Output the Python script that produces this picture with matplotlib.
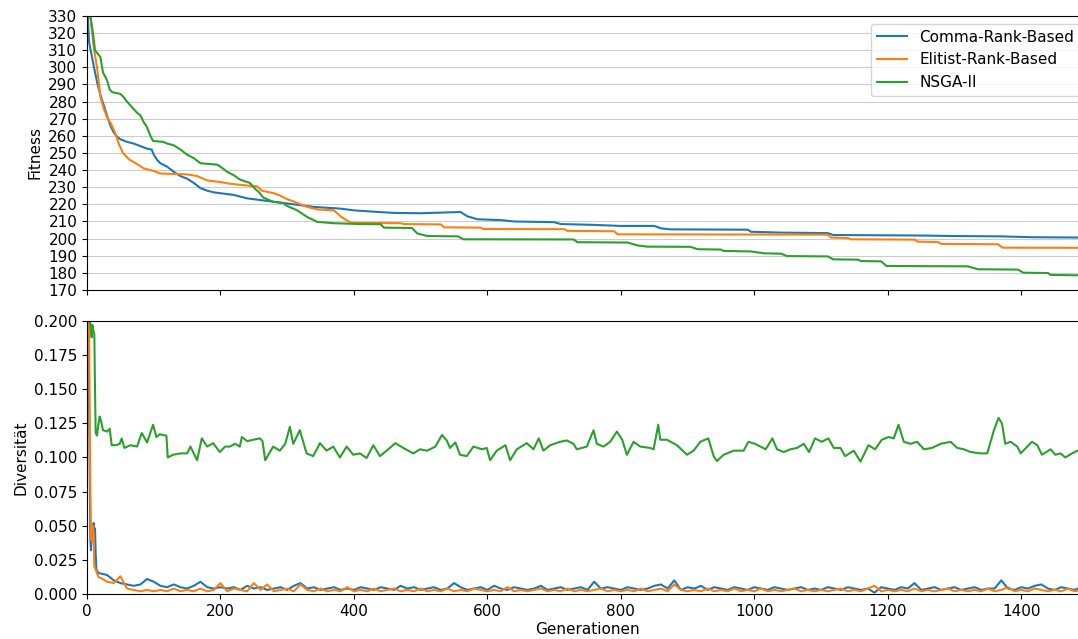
import numpy as np
import matplotlib
matplotlib.use('Agg')
import matplotlib.pyplot as plt

plt.rcParams['font.size'] = 11

labels = ['Comma-Rank-Based', 'Elitist-Rank-Based', 'NSGA-II']

# Fitness (best so far) - breakpoints
comma_fit_gen = [0, 3, 8, 12, 16, 20, 25, 30, 35, 40, 45, 50, 60, 70, 80, 90, 97, 100, 105, 110, 120, 130,
                 140, 150, 160, 170, 180, 190, 200, 210, 220, 240, 260, 280, 300, 320, 340, 360, 380, 400,
                 430, 460, 500, 540, 560, 570, 585, 620, 640, 700, 710, 760, 800, 850, 860, 874, 990, 995,
                 1040, 1110, 1118, 1250, 1300, 1370, 1418, 1499]
comma_fit = [340, 315, 305, 297, 290, 284, 278, 272, 266, 262, 259.5, 258, 256.5, 255.5, 254, 252.5, 252,
             249, 246, 244, 242, 239, 236.5, 235, 232.5, 229.5, 228, 227, 226.5, 226, 225.5, 223.5, 222.5,
             221.5, 220.5, 219.5, 218.5, 218, 217.5, 216.5, 215.7, 215, 214.8, 215.3, 215.5, 213, 211.3,
             210.8, 210, 209.6, 208.5, 208, 207.4, 207.4, 206, 205.4, 205.2, 204, 203.5, 203.2, 202.1,
             201.8, 201.5, 201.3, 200.8, 200.6]

elitist_fit_gen = [0, 5, 10, 15, 20, 25, 30, 36, 42, 48, 54, 60, 64, 75, 85, 100, 110, 150, 165, 180, 200,
                   215, 240, 255, 262, 280, 290, 300, 310, 330, 345, 370, 380, 390, 396, 470, 475, 530, 535,
                   590, 594, 715, 720, 790, 795, 1110, 1115, 1140, 1145, 1240, 1245, 1275, 1280, 1365, 1372,
                   1499]
elitist_fit = [340, 330, 312, 300, 283, 276, 271, 267, 262, 255, 250, 247.5, 246, 243.5, 241, 239.5, 238,
               237.5, 236.5, 234, 233, 232, 231, 230.5, 228, 226.5, 225, 223, 221.6, 218.5, 217, 216.5, 213,
               210.5, 209.2, 209, 208.5, 208.3, 206.6, 206.4, 205.6, 205.5, 204.5, 204.3, 202.5, 202.3, 200.6,
               200.3, 199.6, 199.4, 198.2, 198, 196.9, 196.7, 194.7, 194.6]

nsga_fit_gen = [0, 5, 9, 12, 16, 20, 24, 30, 34, 38, 50, 54, 60, 69, 75, 80, 85, 90, 95, 99, 114, 120, 130,
                140, 150, 160, 170, 195, 200, 210, 220, 229, 244, 252, 258, 264, 279, 294, 300, 315, 330, 345,
                369, 409, 440, 445, 487, 495, 510, 556, 564, 729, 735, 810, 825, 840, 904, 915, 950, 954, 995,
                1015, 1040, 1049, 1110, 1118, 1155, 1160, 1190, 1198, 1320, 1335, 1395, 1403, 1440, 1444, 1499]
nsga_fit = [345, 330, 320, 310, 308, 306, 297, 292.5, 287, 285.5, 284.5, 283, 280, 276, 273.5, 272, 268, 265,
            260, 257, 256.5, 255.5, 254.5, 252, 249, 247, 244, 243.2, 242, 239, 237, 234.5, 232.5, 229, 227,
            224, 221.5, 220.8, 219, 216.5, 212.6, 209.8, 209, 208.5, 208.4, 206.4, 206.2, 203, 201.5, 201.3,
            199.6, 199.5, 197.9, 197.7, 196, 195.3, 195.2, 193.8, 193.6, 192.8, 192.5, 191.4, 191.2, 189.8,
            189.6, 187.9, 187.7, 186.9, 186.7, 184.0, 183.8, 182.1, 181.9, 180.1, 179.9, 178.8, 178.5]

# Diversitaet
comma_div_head_gen = [0, 2, 4, 5, 6, 7, 8, 10, 11, 12, 13, 14, 16]
comma_div_head = [0.21, 0.2, 0.09, 0.04, 0.032, 0.045, 0.048, 0.052, 0.045, 0.048, 0.03, 0.018, 0.016]
comma_div_tail = [0.015, 0.014, 0.010, 0.008, 0.007, 0.006, 0.007, 0.011, 0.009,
                  0.006, 0.005, 0.007, 0.005, 0.004, 0.006, 0.009, 0.005, 0.004, 0.005,
                  0.004, 0.005, 0.003, 0.006, 0.004, 0.005, 0.003, 0.004, 0.005, 0.003,
                  0.006, 0.008, 0.004, 0.005, 0.003, 0.004, 0.005, 0.003, 0.004, 0.003,
                  0.005, 0.004, 0.003, 0.005, 0.004, 0.003, 0.006, 0.004, 0.005, 0.003,
                  0.004, 0.005, 0.003, 0.004, 0.008, 0.005, 0.003, 0.004, 0.005, 0.003,
                  0.006, 0.004, 0.003, 0.005, 0.004, 0.003, 0.004, 0.006, 0.003, 0.004,
                  0.005, 0.003, 0.004, 0.005, 0.003, 0.009, 0.004, 0.005, 0.004, 0.003,
                  0.005, 0.004, 0.003, 0.004, 0.006, 0.007, 0.004, 0.010, 0.003, 0.005,
                  0.004, 0.006, 0.003, 0.005, 0.004, 0.003, 0.005, 0.004, 0.003, 0.005,
                  0.004, 0.003, 0.005, 0.004, 0.003, 0.004, 0.005, 0.003, 0.004, 0.003,
                  0.005, 0.004, 0.003, 0.005, 0.004, 0.003, 0.004, 0.001, 0.005, 0.004,
                  0.003, 0.005, 0.004, 0.008, 0.003, 0.004, 0.005, 0.003, 0.004, 0.005,
                  0.003, 0.004, 0.005, 0.003, 0.004, 0.004, 0.010, 0.004, 0.003, 0.005,
                  0.004, 0.006, 0.007, 0.004, 0.003, 0.005, 0.004, 0.003, 0.005]

elitist_div_head_gen = [0, 3, 5, 6, 7, 8, 9, 10, 11, 13, 15, 18]
elitist_div_head = [0.21, 0.2, 0.08, 0.04, 0.045, 0.038, 0.05, 0.042, 0.02, 0.018, 0.015, 0.012]
elitist_div_tail = [0.012, 0.009, 0.008, 0.013, 0.004, 0.003, 0.002, 0.003, 0.002,
                    0.003, 0.002, 0.004, 0.002, 0.003, 0.002, 0.004, 0.002, 0.003, 0.008,
                    0.002, 0.004, 0.003, 0.002, 0.008, 0.003, 0.007, 0.002, 0.003, 0.004,
                    0.002, 0.007, 0.003, 0.002, 0.004, 0.002, 0.003, 0.002, 0.005, 0.002,
                    0.003, 0.002, 0.004, 0.002, 0.003, 0.004, 0.002, 0.003, 0.002, 0.004,
                    0.002, 0.003, 0.002, 0.004, 0.002, 0.003, 0.002, 0.004, 0.003, 0.002,
                    0.003, 0.002, 0.005, 0.002, 0.003, 0.002, 0.003, 0.004, 0.002, 0.003,
                    0.002, 0.004, 0.002, 0.003, 0.002, 0.003, 0.004, 0.002, 0.003, 0.002,
                    0.003, 0.002, 0.004, 0.002, 0.003, 0.004, 0.002, 0.007, 0.003, 0.002,
                    0.003, 0.002, 0.004, 0.002, 0.003, 0.002, 0.004, 0.002, 0.003, 0.002,
                    0.004, 0.002, 0.003, 0.002, 0.003, 0.004, 0.002, 0.003, 0.002, 0.003,
                    0.002, 0.003, 0.004, 0.002, 0.003, 0.002, 0.004, 0.006, 0.002, 0.003,
                    0.002, 0.003, 0.002, 0.004, 0.002, 0.003, 0.002, 0.003, 0.004, 0.002,
                    0.003, 0.002, 0.003, 0.002, 0.004, 0.002, 0.003, 0.005, 0.002, 0.003,
                    0.002, 0.004, 0.003, 0.002, 0.003, 0.002, 0.004, 0.002, 0.003]
tail_gen = np.arange(20, 1500, 10)

nsga_div_gen = [0, 3, 5, 7, 8, 10, 11, 12, 13, 15, 17, 19, 21, 24, 30, 34, 37, 43, 49, 52, 56, 65, 75, 82, 90,
                99, 104, 109, 119, 121, 129, 140, 150, 155, 165, 172, 180, 189, 199, 207, 214, 222, 229, 232,
                240, 249, 259, 263, 267, 279, 289, 297, 304, 309, 319, 329, 339, 349, 359, 369, 379, 389, 399,
                409, 419, 429, 439, 449, 462, 474, 489, 499, 509, 514, 522, 532, 539, 544, 552, 559, 569, 579,
                592, 599, 604, 614, 627, 634, 644, 659, 669, 677, 684, 694, 709, 719, 729, 734, 749, 759, 764,
                774, 784, 794, 802, 809, 819, 829, 844, 849, 856, 859, 869, 884, 899, 909, 919, 931, 939, 944,
                954, 969, 984, 991, 1001, 1009, 1017, 1027, 1034, 1044, 1054, 1064, 1074, 1082, 1091, 1101,
                1111, 1119, 1129, 1136, 1149, 1159, 1171, 1181, 1191, 1201, 1209, 1216, 1224, 1234, 1244,
                1254, 1266, 1279, 1294, 1304, 1314, 1324, 1339, 1349, 1359, 1366, 1371, 1376, 1384, 1394,
                1399, 1409, 1416, 1424, 1431, 1444, 1451, 1459, 1466, 1476, 1484, 1492, 1499]
nsga_div = [0.215, 0.205, 0.198, 0.188, 0.197, 0.192, 0.19, 0.15, 0.118, 0.116, 0.124, 0.130, 0.127, 0.120,
            0.119, 0.121, 0.109, 0.109, 0.110, 0.114, 0.107, 0.109, 0.108, 0.118, 0.111, 0.124, 0.115, 0.117,
            0.116, 0.100, 0.102, 0.103, 0.103, 0.108, 0.098, 0.114, 0.108, 0.1105, 0.104, 0.108, 0.108, 0.110,
            0.108, 0.115, 0.112, 0.113, 0.114, 0.112, 0.098, 0.108, 0.105, 0.110, 0.1225, 0.110, 0.120, 0.103,
            0.101, 0.1105, 0.105, 0.108, 0.100, 0.108, 0.102, 0.103, 0.0996, 0.109, 0.101, 0.105, 0.1105,
            0.107, 0.103, 0.106, 0.105, 0.106, 0.108, 0.1165, 0.1125, 0.107, 0.111, 0.102, 0.101, 0.108,
            0.106, 0.107, 0.098, 0.105, 0.109, 0.098, 0.106, 0.1105, 0.106, 0.114, 0.105, 0.109, 0.1115,
            0.1125, 0.110, 0.106, 0.108, 0.120, 0.110, 0.108, 0.1115, 0.119, 0.113, 0.102, 0.1115, 0.108,
            0.107, 0.106, 0.124, 0.113, 0.113, 0.109, 0.102, 0.105, 0.1115, 0.114, 0.101, 0.0974, 0.102,
            0.105, 0.105, 0.1115, 0.110, 0.108, 0.106, 0.114, 0.106, 0.104, 0.106, 0.107, 0.110, 0.104,
            0.114, 0.1115, 0.114, 0.107, 0.107, 0.101, 0.105, 0.097, 0.109, 0.106, 0.113, 0.115, 0.114,
            0.124, 0.1115, 0.110, 0.1115, 0.106, 0.107, 0.110, 0.1115, 0.107, 0.106, 0.104, 0.103, 0.103,
            0.120, 0.129, 0.125, 0.110, 0.1115, 0.108, 0.103, 0.108, 0.1115, 0.109, 0.102, 0.106, 0.102,
            0.103, 0.100, 0.103, 0.105, 0.104, 0.105]

comma_div_gen = list(comma_div_head_gen) + list(tail_gen)
comma_div = comma_div_head + comma_div_tail
elitist_div_gen = list(elitist_div_head_gen) + list(tail_gen)
elitist_div = elitist_div_head + elitist_div_tail

fig = plt.figure(figsize=(10.78, 6.39), dpi=100)
ax1 = fig.add_axes([0.0807, 0.5462, 0.9286, 0.4288])
ax2 = fig.add_axes([0.0807, 0.0704, 0.9286, 0.4273], sharex=ax1)

ax1.plot(comma_fit_gen, comma_fit, color='C0', label=labels[0])
ax1.plot(elitist_fit_gen, elitist_fit, color='C1', label=labels[1])
ax1.plot(nsga_fit_gen, nsga_fit, color='C2', label=labels[2])
ax1.set_ylim(170, 330)
ax1.set_yticks(np.arange(170, 331, 10))
ax1.set_ylabel('Fitness')
ax1.grid(True, axis='y', color='#cccccc')
ax1.set_axisbelow(True)
ax1.legend(loc='upper right')
plt.setp(ax1.get_xticklabels(), visible=False)

ax2.plot(comma_div_gen, comma_div, color='C0')
ax2.plot(elitist_div_gen, elitist_div, color='C1')
ax2.plot(nsga_div_gen, nsga_div, color='C2')
ax2.set_ylim(0, 0.2)
ax2.set_yticks(np.arange(0, 0.2001, 0.025))
ax2.yaxis.set_major_formatter(matplotlib.ticker.FormatStrFormatter('%.3f'))
ax2.set_ylabel('Diversität')
ax2.set_xlabel('Generationen', labelpad=2)
ax2.set_xlim(0, 1500)
ax2.set_xticks(np.arange(0, 1401, 200))

fig.savefig('out.png', dpi=100)
